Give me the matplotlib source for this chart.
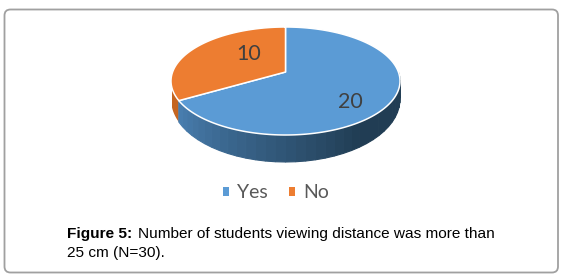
import numpy as np
import matplotlib
matplotlib.use("Agg")
import matplotlib.pyplot as plt
from matplotlib.patches import FancyBboxPatch, Patch

categories = ["Yes", "No"]
values = [20, 10]
colors = ["#5B9BD5", "#ED7D31"]
caption_bold = "Figure 5:"
caption_line1 = "Number of students viewing distance was more than"
caption_line2 = "25 cm (N=30)."

W, H = 563, 278
fig = plt.figure(figsize=(W / 100, H / 100), dpi=100, facecolor="white")
ax = fig.add_axes([0, 0, 1, 1])
ax.set_xlim(0, W)
ax.set_ylim(H, 0)
ax.axis("off")

ax.add_patch(FancyBboxPatch((4.5, 9.5), 553.5, 263, boxstyle="round,pad=0,rounding_size=6",
                            fc="white", ec="#a0a0a0", lw=1.3))

CX, CY, A, B, K = 285.5, 72.0, 112.9, 52.5, 1 / 6
BASE_CY, BASE_B = 88.8, 61.0


def top(theta):
    X, Y = np.cos(theta), np.sin(theta)
    d = 1 + K * Y
    return CX + A * X / d, CY - B * Y / d


def base(theta):
    X, Y = np.cos(theta), np.sin(theta)
    d = 1 + K * Y
    return CX + A * X / d, BASE_CY - BASE_B * Y / d


# wedges run clockwise from 12 o'clock, angles follow the values
fractions = np.array(values, float) / sum(values)
edges = np.pi / 2 - 2 * np.pi * np.concatenate([[0], np.cumsum(fractions)])
spans = list(zip(edges[:-1], edges[1:]))

# side wall of the large wedge: light on the left, dark from the middle on the right
yes_end = spans[0][1]
wall_end = 0.0
th = np.linspace(wall_end, yes_end, 36)
start = np.array([0.29, 0.50, 0.70])
stop = np.array([0.13, 0.24, 0.33])
for a, b in zip(th[:-1], th[1:]):
    t = np.clip((a - yes_end) / (np.deg2rad(-55) - yes_end), 0, 1)
    c = tuple(start + (stop - start) * t)
    xa, ya = top(a); xb, yb = top(b); xc, yc = base(b); xd, yd = base(a)
    ax.fill([xa, xb, xc, xd], [ya, yb, yc, yd], fc=c, ec=c, lw=0.8, zorder=2)

# sliver of the small wedge's side wall
th = np.linspace(yes_end, yes_end - np.deg2rad(13), 8)
xs_t, ys_t = top(th)
xs_b, ys_b = base(th)
ax.fill(np.r_[xs_t, xs_b[::-1]], np.r_[ys_t, ys_b[::-1]], fc="#c5651f", ec="none", zorder=1.5)

# top faces
for (s, e), col in zip(spans, colors):
    th = np.linspace(s, e, 200)
    xs, ys = top(th)
    ax.fill(np.r_[CX, xs], np.r_[CY, ys], fc=col, ec="white", lw=1.1, zorder=3,
            joinstyle="round")

# data labels
label_pos = [(350, 101.5), (249, 54)]
for v, (x, y) in zip(values, label_pos):
    ax.text(x, y, str(v), fontsize=15.5, family="Lato", color="#404040",
            ha="center", va="center", zorder=4)

handles = [Patch(fc=c, ec="none", label=n) for c, n in zip(colors, categories)]
leg = ax.legend(handles=handles, ncols=2, frameon=False, loc="center",
                bbox_to_anchor=(276 / W, 1 - 193 / H), bbox_transform=fig.transFigure,
                prop={"family": "Lato", "size": 14}, labelcolor="#595959",
                handlelength=0.32, handleheight=0.32, handletextpad=0.42,
                columnspacing=1.05, borderpad=0, borderaxespad=0)

fs = 11.1
ax.text(67, 238, caption_bold, family="Liberation Sans", weight="bold", fontsize=fs,
        color="black", va="baseline")
ax.text(138, 238, caption_line1, family="Liberation Sans", fontsize=fs,
        color="black", va="baseline")
ax.text(67, 257, caption_line2, family="Liberation Sans", fontsize=fs,
        color="black", va="baseline")

fig.savefig("out.png", dpi=100)
